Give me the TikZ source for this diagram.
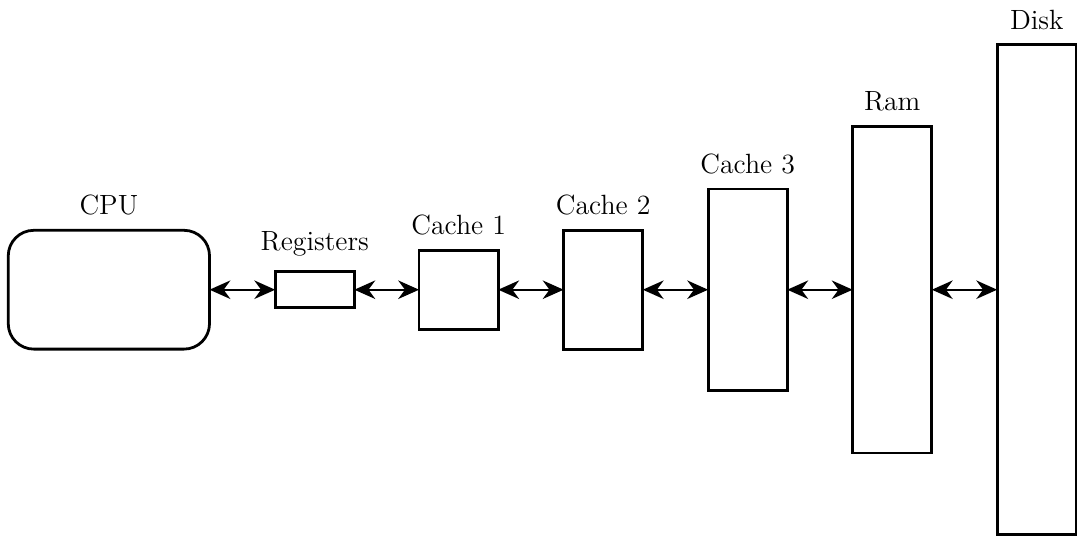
\documentclass[tikz,border=0pt]{standalone}
\usepackage{amsmath}
\usepackage{tikz}
\usetikzlibrary{arrows.meta}

\tikzset{
  mem/.style={draw, very thick, minimum width=1.2cm, inner sep=0pt, outer sep=0pt},
  memlabel/.style={font=\fontsize{12}{14}\selectfont, label distance=3pt},
  link/.style={thick, {Stealth[length=9pt,width=8pt]}-{Stealth[length=9pt,width=8pt]}}
}

\begin{document}
\begin{tikzpicture}
\useasboundingbox (0,-3.74) rectangle (16.32,4.39);

% processor
\node [draw, very thick, rounded corners=11pt, minimum width=3.05cm, minimum height=1.8cm, outer sep=0pt,
  label={[memlabel]above:CPU}] (cpu) at (1.65,0) {};

% memory hierarchy, growing to the right
\node [mem, minimum height=0.55cm, label={[memlabel]above:Registers}] (reg) at (4.77,0) {};
\node [mem, minimum height=1.2cm, label={[memlabel]above:Cache 1}] (c1) at (6.95,0) {};
\node [mem, minimum height=1.8cm, label={[memlabel]above:Cache 2}] (c2) at (9.14,0) {};
\node [mem, minimum height=3.05cm, label={[memlabel]above:Cache 3}] (c3) at (11.33,0) {};
\node [mem, minimum height=4.95cm, label={[memlabel]above:Ram}] (ram) at (13.52,0) {};
\node [mem, minimum height=7.42cm, label={[memlabel]above:Disk}] (disk) at (15.71,0) {};

% links
\draw [link] (cpu) -- (reg);
\draw [link] (reg) -- (c1);
\draw [link] (c1) -- (c2);
\draw [link] (c2) -- (c3);
\draw [link] (c3) -- (ram);
\draw [link] (ram) -- (disk);
\end{tikzpicture}
\end{document}
